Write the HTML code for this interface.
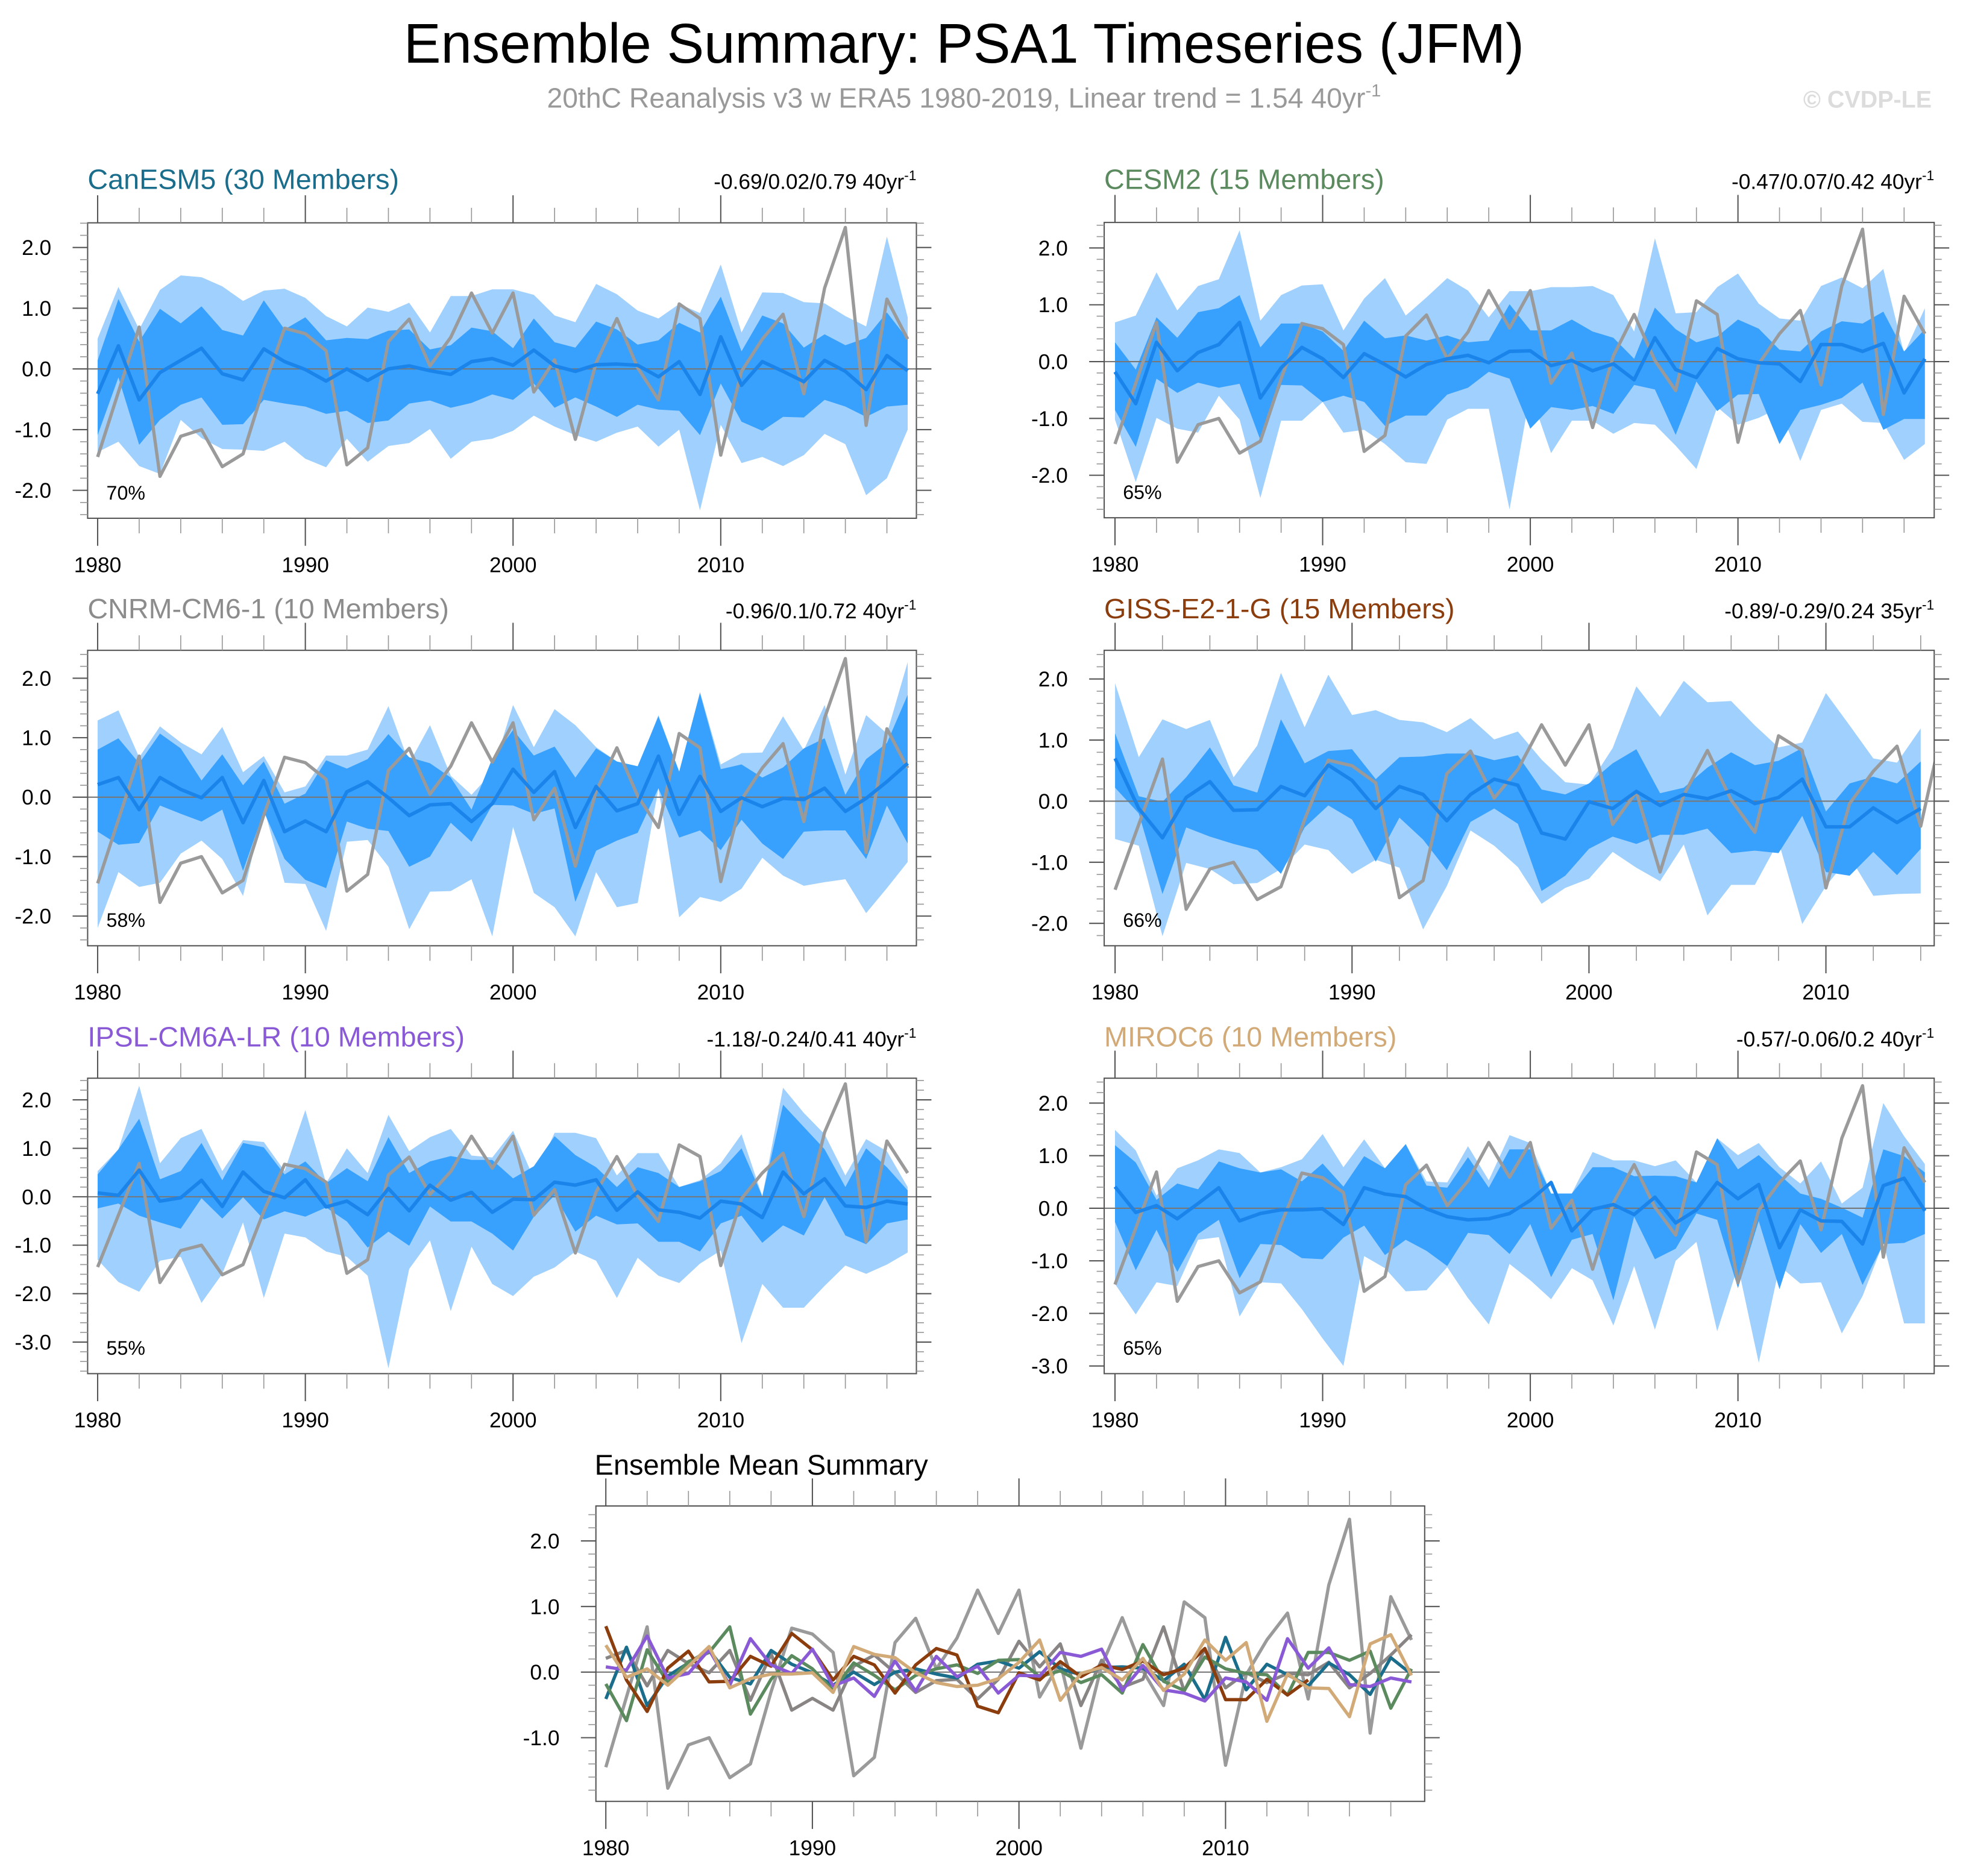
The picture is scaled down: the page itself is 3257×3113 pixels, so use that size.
<!DOCTYPE html>
<html><head><meta charset="utf-8"><title>Ensemble Summary: PSA1 Timeseries (JFM)</title>
<style>
html,body{margin:0;padding:0;background:#fff;}
svg{display:block;font-family:"Liberation Sans",Arial,sans-serif;}
</style></head>
<body>
<svg id="chart" xmlns="http://www.w3.org/2000/svg" width="3257" height="3113" viewBox="0 0 1568 1498.6" preserveAspectRatio="none">
<rect x="0" y="0" width="1568" height="1498.6" fill="#fff"/>
<text x="770" y="50" font-size="44.5" text-anchor="middle" fill="#000">Ensemble Summary: PSA1 Timeseries (JFM)</text>
<text x="770" y="86" font-size="22.3" text-anchor="middle" fill="#999">20thC Reanalysis v3 w ERA5 1980-2019, Linear trend = 1.54 40yr<tspan font-size="14" dy="-9">-1</tspan></text>
<text x="1543" y="86" font-size="19" font-weight="bold" text-anchor="end" fill="#dcdcdc">© CVDP-LE</text>
<text x="475" y="1178" font-size="22.6" fill="#000">Ensemble Mean Summary</text>
</svg>
<script>
// ---------- data ----------
const obsValues = [-1.45,-0.38,0.69,-1.77,-1.11,-1.0,-1.61,-1.40,-0.30,0.67,0.58,0.30,-1.58,-1.30,0.45,0.82,0.05,0.52,1.25,0.59,1.25,-0.38,0.15,-1.16,0.1,0.83,0.02,-0.51,1.07,0.83,-1.42,-0.04,0.49,0.90,-0.41,1.33,2.33,-0.93,1.15,0.49];

const canMean = [-0.41,0.38,-0.51,-0.06,0.14,0.34,-0.08,-0.18,0.33,0.12,-0.01,-0.2,0,-0.19,0,0.05,-0.03,-0.09,0.12,0.17,0.06,0.31,0.05,-0.04,0.07,0.08,0.06,-0.13,0.12,-0.42,0.53,-0.27,0.12,-0.04,-0.21,0.14,-0.04,-0.34,0.22,-0.03];
const canDarkUp = [0.14,1.15,0.45,0.99,0.75,1.03,0.64,0.55,1.13,0.65,0.85,0.47,0.51,0.49,0.63,0.65,0.32,0.39,0.68,0.62,0.34,0.83,0.44,0.35,0.78,0.65,0.40,0.47,0.76,0.60,1.19,0.29,0.88,0.75,0.35,0.57,0.39,0.51,0.93,0.49];
const canDarkLo = [-1.09,-0.14,-1.25,-0.84,-0.59,-0.47,-0.92,-0.91,-0.51,-0.57,-0.62,-0.74,-0.69,-0.89,-0.85,-0.57,-0.52,-0.64,-0.56,-0.42,-0.51,-0.24,-0.64,-0.47,-0.62,-0.79,-0.59,-0.67,-0.69,-1.09,-0.24,-0.87,-1.02,-0.79,-0.80,-0.51,-0.62,-0.79,-0.62,-0.59];
const canLightUp = [0.50,1.35,0.65,1.30,1.54,1.51,1.36,1.12,1.29,1.32,1.17,0.87,0.70,1.01,0.94,1.09,0.60,1.20,1.20,1.31,1.31,1.22,0.88,0.77,1.40,1.23,0.96,0.83,1.07,0.92,1.72,0.60,1.26,1.25,1.10,1.08,0.87,0.70,2.18,0.85];
const canLightLo = [-1.37,-1.20,-1.60,-1.73,-0.84,-1.14,-1.32,-1.33,-1.35,-1.20,-1.48,-1.62,-1.15,-1.53,-1.27,-1.22,-0.99,-1.48,-1.20,-1.15,-1.02,-0.77,-0.95,-1.09,-1.20,-1.05,-0.95,-1.28,-1.00,-2.33,-0.92,-1.55,-1.45,-1.60,-1.42,-1.07,-1.24,-2.08,-1.80,-1.00];

const cesmMean = [-0.18,-0.74,0.34,-0.16,0.16,0.30,0.69,-0.64,-0.11,0.25,0.05,-0.28,0.14,-0.05,-0.27,-0.05,0.05,0.11,-0.02,0.18,0.19,-0.07,0.02,-0.16,-0.04,-0.32,0.42,-0.14,-0.28,0.23,0.05,-0.02,-0.04,-0.35,0.30,0.30,0.18,0.32,-0.55,0.05];
const cesmDarkUp = [0.34,-0.14,0.78,0.42,0.87,0.94,1.17,0.25,0.67,0.67,0.53,0.19,0.72,0.41,0.46,0.37,0.46,0.34,0.37,1.01,0.55,0.55,0.74,0.53,0.42,0.05,0.95,0.57,0.34,0.44,0.74,0.58,0.21,0.18,0.53,0.71,0.67,0.88,0.18,0.57];
const cesmDarkLo = [-0.85,-1.50,-0.30,-0.55,-0.37,-0.46,-0.39,-1.38,-0.41,-0.42,-0.71,-0.60,-0.71,-1.13,-0.95,-0.95,-0.58,-0.46,-0.18,-0.30,-1.18,-0.80,-0.85,-0.78,-0.92,-0.41,-0.49,-1.29,-0.35,-0.87,-0.58,-0.57,-1.45,-0.85,-0.76,-0.64,-0.37,-1.20,-1.01,-1.01];
const cesmLightUp = [0.69,0.81,1.57,0.90,1.33,1.45,2.31,0.72,1.17,1.34,1.36,0.55,1.11,1.47,0.81,1.13,1.47,1.25,0.78,1.24,1.24,1.31,1.31,1.33,1.17,0.53,2.17,0.85,0.87,1.31,1.55,1.02,0.76,0.72,1.33,1.48,1.29,1.63,0.14,0.94];
const cesmLightLo = [-1.02,-2.12,-0.99,-1.18,-1.25,-0.60,-1.02,-2.40,-1.04,-1.04,-0.71,-1.25,-1.20,-1.45,-1.77,-1.80,-1.02,-0.83,-0.83,-2.60,-0.55,-1.61,-1.04,-1.04,-1.27,-1.08,-1.11,-1.48,-1.89,-0.80,-1.11,-0.99,-0.81,-1.75,-0.85,-0.74,-1.06,-1.08,-1.73,-1.45];

const cnrmMean = [0.21,0.33,-0.21,0.33,0.13,-0.01,0.33,-0.43,0.28,-0.58,-0.40,-0.58,0.09,0.26,-0.01,-0.31,-0.13,-0.11,-0.41,-0.11,0.47,0.08,0.43,-0.51,0.18,-0.23,-0.11,0.69,-0.29,0.35,-0.24,-0.01,-0.16,-0.02,-0.04,0.15,-0.24,-0.02,0.26,0.57];
const cnrmDarkUp = [0.80,0.99,0.57,1.07,0.82,0.28,0.72,0.20,0.60,-0.11,0.06,0.62,0.48,0.64,1.06,0.67,0.57,0.33,-0.21,0.65,1.13,0.70,0.85,0.33,0.82,0.60,0.52,1.36,0.43,1.75,0.47,0.55,0.33,0.50,0.82,0.99,0.04,0.64,0.91,1.72];
const cnrmDarkLo = [-0.58,-0.80,-0.77,-0.14,-0.28,-0.41,-0.21,-1.24,-0.24,-1.04,-1.39,-1.53,-0.41,-0.53,-0.57,-1.17,-1.00,-0.43,-0.75,-0.13,-0.14,-0.28,-0.19,-1.76,-0.90,-0.73,-0.60,0.15,-0.68,-0.56,-0.89,-0.38,-0.78,-1.04,-0.58,-0.56,-0.56,-1.04,-0.14,-0.78];
const cnrmLightUp = [1.29,1.46,0.67,1.19,0.92,0.72,1.18,0.42,0.69,0.08,0.18,0.70,0.70,0.80,1.53,0.57,1.21,0.36,0.04,0.42,1.55,0.84,1.48,1.21,0.84,0.60,0.50,1.38,0.42,1.77,0.55,0.74,0.75,1.36,0.79,1.55,0.38,1.38,1.07,2.27];
const cnrmLightLo = [-2.20,-1.26,-1.51,-1.44,-0.95,-0.73,-1.04,-1.66,-0.18,-1.44,-1.46,-2.25,-0.75,-0.72,-1.17,-2.22,-1.59,-1.58,-1.38,-2.34,-0.50,-1.61,-1.85,-2.34,-1.26,-1.85,-1.78,0.15,-2.02,-1.68,-1.76,-1.54,-1.02,-1.32,-1.49,-1.43,-1.38,-1.95,-1.53,-1.09];

const gissMean = [0.70,-0.12,-0.60,0.06,0.32,-0.15,-0.14,0.24,0.09,0.59,0.34,-0.12,0.24,0.11,-0.32,0.11,0.36,0.26,-0.52,-0.62,-0.01,-0.12,0.16,-0.07,0.11,0.04,0.17,-0.04,0.06,0.36,-0.42,-0.42,-0.11,-0.35,-0.12];
const gissDarkUp = [1.11,0.08,-0.01,0.39,0.88,0.26,0.14,1.34,0.62,0.82,0.85,0.36,0.72,0.73,0.78,0.78,0.67,0.75,0.19,0.11,0.29,0.62,0.85,0.13,0.22,0.55,0.80,0.59,0.66,0.87,-0.17,0.29,0.40,0.29,0.65];
const gissDarkLo = [0.22,-0.20,-1.52,-0.43,-0.58,-0.70,-0.80,-1.19,-0.43,-0.07,-0.30,-0.99,-0.27,-0.63,-1.13,-0.34,-0.12,-0.37,-1.47,-1.22,-0.78,-0.58,-0.70,-0.55,-0.55,-0.45,-0.85,-0.81,-0.85,-0.24,-1.16,-1.22,-0.83,-1.21,-0.78];
const gissLightUp = [1.93,0.72,1.34,1.18,1.33,0.39,0.91,2.10,1.21,2.07,1.41,1.49,1.33,1.29,1.13,1.36,1.01,1.14,0.68,0.31,0.27,0.87,1.88,1.38,1.97,1.62,1.64,1.24,0.88,0.96,1.77,1.24,0.70,0.63,1.19];
const gissLightLo = [-0.62,-0.73,-2.21,-1.01,-1.11,-1.36,-1.34,-1.11,-0.71,-0.80,-1.19,-0.96,-1.09,-2.10,-1.39,-0.48,-0.73,-1.08,-1.68,-1.42,-1.27,-0.83,-1.09,-1.31,-0.71,-1.87,-1.37,-1.37,-0.66,-2.01,-1.39,-0.91,-1.55,-1.52,-1.51];

const ipslMean = [0.08,0.03,0.55,-0.09,-0.02,0.34,-0.20,0.51,0.11,-0.02,0.35,-0.21,-0.09,-0.37,0.17,-0.29,0.24,-0.07,0.09,-0.32,-0.05,-0.06,0.30,0.24,0.35,-0.28,0.10,-0.27,-0.32,-0.44,-0.09,-0.15,-0.43,0.51,0.06,0.37,-0.19,-0.22,-0.09,-0.15];
const ipslDarkUp = [0.46,0.98,1.61,0.36,0.53,1.11,0.34,1.11,1.02,0.46,0.73,0.28,0.59,0.32,1.23,0.49,0.73,0.84,0.76,0.76,0.38,0.63,1.25,0.86,0.61,0.20,0.61,0.49,0.20,0.32,0.53,1.00,0.01,1.90,1.44,0.98,0.20,1.00,0.61,0.13];
const ipslDarkLo = [-0.24,-0.14,-0.39,-0.53,-0.66,-0.03,-0.45,-0.01,-0.47,-0.30,-0.41,-0.22,-0.51,-1.05,-0.72,-1.01,-0.20,-0.51,-0.51,-0.76,-1.11,-0.41,0.03,-0.72,-0.39,-0.57,-0.55,-0.93,-0.93,-1.13,-0.55,-0.39,-0.95,-0.59,-0.80,-0.01,-0.80,-0.98,-0.55,-0.47];
const ipslLightUp = [0.53,0.98,2.29,0.69,1.21,1.40,0.53,1.17,1.13,0.53,1.79,0.28,1.00,0.49,1.69,0.94,1.23,1.40,0.85,0.81,1.36,0.38,1.32,1.32,1.21,0.44,0.90,0.90,0.20,0.34,0.69,1.29,0.01,2.25,1.73,1.29,0.44,1.19,0.94,0.20];
const ipslLightLo = [-1.30,-1.76,-1.96,-1.32,-1.24,-2.19,-1.59,-0.53,-2.09,-0.76,-0.84,-1.13,-1.24,-1.63,-3.54,-1.49,-0.90,-2.36,-1.03,-1.80,-2.05,-1.65,-1.46,-1.13,-1.32,-2.09,-1.26,-1.63,-1.78,-1.38,-1.11,-3.02,-1.80,-2.29,-2.29,-1.84,-1.42,-1.59,-1.40,-1.15];

const mirocMean = [0.41,-0.08,0.05,-0.20,0.09,0.39,-0.24,-0.10,-0.03,-0.03,-0.01,-0.31,0.39,0.27,0.22,-0.01,-0.16,-0.22,-0.20,-0.10,0.15,0.49,-0.43,-0.02,0.07,-0.12,0.21,-0.28,-0.03,0.49,0.18,0.45,-0.75,-0.03,-0.24,-0.25,-0.68,0.43,0.57,-0.05];
const mirocDarkUp = [1.20,0.87,0.16,0.47,0.36,0.89,0.76,0.68,0.74,0.51,0.85,0.41,0.99,0.76,1.22,0.43,0.39,0.97,0.39,1.12,1.12,0.28,0.28,0.78,0.78,0.61,0.62,0.61,0.49,1.33,0.74,1.01,0.64,0.28,0.18,0.01,-0.18,1.12,0.99,0.68];
const mirocDarkLo = [-0.26,-1.18,-0.41,-1.21,-0.49,-0.22,-1.33,-0.68,-0.70,-0.95,-0.97,-0.56,-0.33,-0.89,-0.60,-0.81,-1.10,-0.47,-0.51,-0.87,-0.30,-1.31,-0.60,-0.49,-1.75,-0.16,-0.97,-0.77,-0.10,-0.22,-1.52,-0.24,-1.54,-0.30,-0.85,-0.49,-1.46,-0.68,-0.66,-0.49];
const mirocLightUp = [1.49,1.10,0.24,0.76,0.91,1.12,1.05,0.68,0.78,0.93,1.41,0.78,1.31,0.76,1.22,0.51,0.49,1.18,0.53,1.39,1.24,0.28,0.28,1.07,0.91,0.91,0.80,0.91,0.49,1.33,1.01,1.24,0.78,0.47,0.89,0.09,0.39,2.00,1.37,0.84];
const mirocLightLo = [-1.44,-2.02,-1.41,-1.48,-0.60,-0.55,-2.06,-1.41,-1.43,-1.92,-2.48,-3.00,-0.91,-1.14,-1.58,-1.56,-1.12,-1.71,-2.21,-1.06,-1.37,-1.73,-1.14,-1.37,-2.23,-1.10,-2.31,-1.00,-0.64,-2.34,-1.10,-2.94,-1.10,-1.43,-1.41,-2.38,-1.67,-0.66,-2.19,-2.19];

const startYear = 1980;
const xTickLabels = ["1980","1990","2000","2010"];
const yTicksStd = [2,1,0,-1,-2];
const yTicksDeep = [2,1,0,-1,-2,-3];
const yTicksSummary = [2,1,0,-1];

// ---------- drawing ----------
const svg = document.getElementById('chart');
const NS = 'http://www.w3.org/2000/svg';
function mk(tag, attrs, parent){
  const e = document.createElementNS(NS, tag);
  for (const k in attrs) e.setAttribute(k, attrs[k]);
  (parent || svg).appendChild(e);
  return e;
}
const fmt = v => v.toFixed(1);

function drawAxes(p, g, sx, sy, yTicks){
  for (let yr = 1980; yr <= p.xmax; yr += 2) {
    const major = (yr % 10 === 0);
    const x = sx(yr);
    const L = major ? 22 : 12;
    const t1 = mk('line',{x1:x,y1:p.by1,x2:x,y2:p.by1+L,stroke:major?'#555':'#999','stroke-width':major?1:0.8},g);
    
    
    const t2 = mk('line',{x1:x,y1:p.by0,x2:x,y2:p.by0-L,stroke:major?'#555':'#999','stroke-width':major?1:0.8},g);
    
    
  }
  xTickLabels.forEach(lbl => {
    const yr = +lbl;
    if (yr > p.xmax) return;
    const t = mk('text',{x:sx(yr),y:p.by1+43,'font-size':17,'text-anchor':'middle',fill:'#000'},g);
    t.textContent = lbl;
    
    
  });
  const start = Math.ceil(p.ymin/0.2);
  for (let k = start; k*0.2 <= p.ymax + 1e-9; k++) {
    const v = k*0.2;
    const major = (k % 5 === 0);
    const y = sy(v);
    const L = major ? 12 : 6;
    const a = mk('line',{x1:p.bx0,y1:y,x2:p.bx0-L,y2:y,stroke:major?'#555':'#999','stroke-width':major?1:0.8},g);
    
    
    const b = mk('line',{x1:p.bx1,y1:y,x2:p.bx1+L,y2:y,stroke:major?'#555':'#999','stroke-width':major?1:0.8},g);
    
    
  }
  yTicks.forEach(v => {
    const t = mk('text',{x:p.bx0-29,y:sy(v)+6,'font-size':17,'text-anchor':'end',fill:'#000'},g);
    t.textContent = fmt(v);
    
    
  });
}

function linePath(vals, sx, sy){
  return vals.map((v,i)=>(i?'L':'M')+sx(startYear+i).toFixed(2)+','+sy(v).toFixed(2)).join(' ');
}
function bandPath(up, lo, sx, sy){
  let d = up.map((v,i)=>(i?'L':'M')+sx(startYear+i).toFixed(2)+','+sy(v).toFixed(2)).join(' ');
  for (let i = lo.length-1; i >= 0; i--) d += ' L'+sx(startYear+i).toFixed(2)+','+sy(lo[i]).toFixed(2);
  return d + ' Z';
}

let clipId = 0;
function makeFrame(p, key){
  const g = mk('g',{});
  
  
  const sx = v => p.bx0 + (v - p.xmin)/(p.xmax - p.xmin)*(p.bx1 - p.bx0);
  const sy = v => p.by1 - (v - p.ymin)/(p.ymax - p.ymin)*(p.by1 - p.by0);
  const id = 'clip' + (clipId++);
  const cp = mk('clipPath',{id:id},g);
  mk('rect',{x:p.bx0,y:p.by0,width:p.bx1-p.bx0,height:p.by1-p.by0},cp);
  const plot = mk('g',{'clip-path':'url(#'+id+')'},g);
  
  
  return {g, plot, sx, sy};
}

function drawPanel(p){
  const {g, plot, sx, sy} = makeFrame(p, p.key);
  const lb = mk('path',{d:bandPath(p.lu,p.ll,sx,sy),fill:'#a0d0fd',stroke:'none'},plot);
  
  
  const db = mk('path',{d:bandPath(p.du,p.dl,sx,sy),fill:'#38a0fd',stroke:'none'},plot);
  
  
  const z = mk('line',{x1:p.bx0,x2:p.bx1,y1:sy(0),y2:sy(0),stroke:'#777','stroke-width':1},plot);
  
  
  const ob = mk('path',{d:linePath(obsValues,sx,sy),fill:'none',stroke:'#9a9a9a','stroke-width':2.6,'stroke-linejoin':'round'},plot);
  
  
  const mn = mk('path',{d:linePath(p.mean,sx,sy),fill:'none',stroke:'#1a84ea','stroke-width':2.8,'stroke-linejoin':'round'},plot);
  
  
  const fr = mk('rect',{x:p.bx0,y:p.by0,width:p.bx1-p.bx0,height:p.by1-p.by0,fill:'none',stroke:'#555','stroke-width':1},g);
  
  
  drawAxes(p, g, sx, sy, p.yTicks);
  const tt = mk('text',{x:p.bx0,y:p.ty,'font-size':22.5,fill:p.color},g);
  tt.textContent = p.title;
  
  
  const tr = mk('text',{x:p.bx1,y:p.ty,'font-size':17,'text-anchor':'end',fill:'#000'},g);
  
  
  tr.appendChild(document.createTextNode(p.trend + ' ' + p.trendUnit + 'yr'));
  const sup = mk('tspan',{'font-size':11,dy:-7},tr);
  sup.textContent = '-1';
  const pc = mk('text',{x:p.bx0+15,y:p.by1-15,'font-size':15.5,fill:'#000'},g);
  pc.textContent = p.pct;
  
  
}

const L = {bx0:70,bx1:732,xmin:1979.518,xmax:2019.42};
const R = {bx0:882,bx1:1545,xmin:1979.48,xmax:2019.45};
const panels = [
  Object.assign({key:'canesm5',title:'CanESM5 (30 Members)',color:'#1b6d8c',trend:'-0.69/0.02/0.79',trendUnit:'40',pct:'70%',by0:178,by1:414,ymin:-2.46,ymax:2.406,ty:151,yTicks:yTicksStd,mean:canMean,du:canDarkUp,dl:canDarkLo,lu:canLightUp,ll:canLightLo},L),
  Object.assign({key:'cesm2',title:'CESM2 (15 Members)',color:'#5b8a5e',trend:'-0.47/0.07/0.42',trendUnit:'40',pct:'65%',by0:177.7,by1:413.6,ymin:-2.748,ymax:2.449,ty:151,yTicks:yTicksStd,mean:cesmMean,du:cesmDarkUp,dl:cesmDarkLo,lu:cesmLightUp,ll:cesmLightLo},R),
  Object.assign({key:'cnrm-cm6-1',title:'CNRM-CM6-1 (10 Members)',color:'#8c8c8c',trend:'-0.96/0.1/0.72',trendUnit:'40',pct:'58%',by0:519.5,by1:755.5,ymin:-2.499,ymax:2.469,ty:494,yTicks:yTicksStd,mean:cnrmMean,du:cnrmDarkUp,dl:cnrmDarkLo,lu:cnrmLightUp,ll:cnrmLightLo},L),
  Object.assign({key:'giss-e2-1-g',title:'GISS-E2-1-G (15 Members)',color:'#8b3d0d',trend:'-0.89/-0.29/0.24',trendUnit:'35',pct:'66%',by0:519.5,by1:755.5,ymin:-2.367,ymax:2.469,ty:494,yTicks:yTicksStd,mean:gissMean,du:gissDarkUp,dl:gissDarkLo,lu:gissLightUp,ll:gissLightLo},R,{xmin:1979.54,xmax:2014.57}),
  Object.assign({key:'ipsl-cm6a-lr',title:'IPSL-CM6A-LR (10 Members)',color:'#8a5ad6',trend:'-1.18/-0.24/0.41',trendUnit:'40',pct:'55%',by0:861.3,by1:1097.3,ymin:-3.651,ymax:2.447,ty:836,yTicks:yTicksDeep,mean:ipslMean,du:ipslDarkUp,dl:ipslDarkLo,lu:ipslLightUp,ll:ipslLightLo},L),
  Object.assign({key:'miroc6',title:'MIROC6 (10 Members)',color:'#d2aa78',trend:'-0.57/-0.06/0.2',trendUnit:'40',pct:'65%',by0:861.3,by1:1097.3,ymin:-3.146,ymax:2.473,ty:836,yTicks:yTicksDeep,mean:mirocMean,du:mirocDarkUp,dl:mirocDarkLo,lu:mirocLightUp,ll:mirocLightLo},R)
];
panels.forEach(drawPanel);

const S = {bx0:476,bx1:1138,by0:1203,by1:1439,xmin:1979.52,xmax:2019.64,ymin:-1.971,ymax:2.533};
(function(){
  const {g, plot, sx, sy} = makeFrame(S, 'ensemble-mean-summary');
  const z = mk('line',{x1:S.bx0,x2:S.bx1,y1:sy(0),y2:sy(0),stroke:'#777','stroke-width':1},plot);
  
  
  const ob = mk('path',{d:linePath(obsValues,sx,sy),fill:'none',stroke:'#9a9a9a','stroke-width':2.6,'stroke-linejoin':'round'},plot);
  
  
  const order = [panels[2],panels[0],panels[1],panels[3],panels[4],panels[5]];
  order.forEach(p => {
    const ln = mk('path',{d:linePath(p.mean,sx,sy),fill:'none',stroke:p.key==='cnrm-cm6-1'?'#8a8585':p.color,'stroke-width':2.6,'stroke-linejoin':'round'},plot);
    
    
  });
  const fr = mk('rect',{x:S.bx0,y:S.by0,width:S.bx1-S.bx0,height:S.by1-S.by0,fill:'none',stroke:'#555','stroke-width':1},g);
  
  
  drawAxes(S, g, sx, sy, yTicksSummary);
})();
</script>
</body></html>
